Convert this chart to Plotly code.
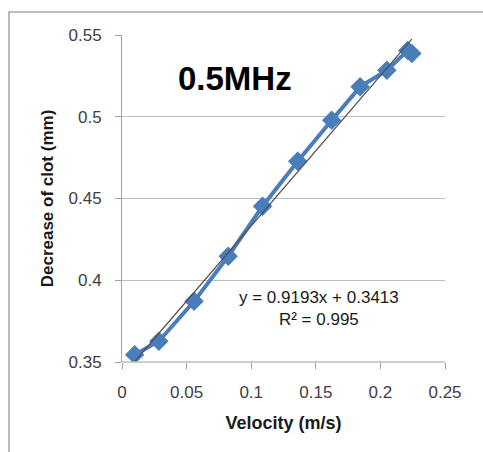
import plotly.graph_objects as go

velocity = [0.0098, 0.0285, 0.0558, 0.0822, 0.1088, 0.1360, 0.1623, 0.1843, 0.2050, 0.2212, 0.2243]
decrease = [0.3545, 0.3627, 0.3871, 0.4147, 0.4453, 0.4728, 0.4979, 0.5183, 0.5285, 0.5405, 0.5387]
slope = 0.9193
intercept = 0.3413
r2 = 0.995
x_ticks = [0, 0.05, 0.1, 0.15, 0.2, 0.25]
x_labels = ["0", "0.05", "0.1", "0.15", "0.2", "0.25"]
y_ticks = [0.35, 0.4, 0.45, 0.5, 0.55]
y_labels = ["0.35", "0.4", "0.45", "0.5", "0.55"]

trend_x = [min(velocity), max(velocity)]
trend_y = [slope * v + intercept for v in trend_x]

FONT = "Liberation Sans, Arial, sans-serif"
BLUE = "#4A7EBB"

fig = go.Figure()
fig.add_trace(go.Scatter(
    x=velocity, y=decrease, mode="lines+markers",
    line=dict(color=BLUE, width=4),
    marker=dict(symbol="diamond", size=15, color=BLUE),
    showlegend=False, hoverinfo="skip"))
fig.add_trace(go.Scatter(
    x=trend_x, y=trend_y, mode="lines",
    line=dict(color="#505050", width=1.2),
    showlegend=False, hoverinfo="skip"))

fig.update_layout(
    width=483, height=452,
    margin=dict(l=122, r=38, t=35, b=90, autoexpand=False),
    paper_bgcolor="white", plot_bgcolor="white",
    font=dict(family=FONT, color="#404040"),
    xaxis=dict(range=[0, 0.25], tickvals=x_ticks, ticktext=x_labels,
               showgrid=False, zeroline=False, showline=False, automargin=False,
               ticks="outside", ticklen=6, tickcolor="#A0A0A0",
               ticklabelstandoff=9,
               tickfont=dict(size=17, color="#404040"),
               title=dict(text="<b>Velocity (m/s)</b>", font=dict(size=18, color="#1a1a1a"), standoff=14)),
    yaxis=dict(range=[0.35, 0.55], tickvals=y_ticks, ticktext=y_labels,
               showgrid=True, gridcolor="#BDBDBD", gridwidth=1, automargin=False,
               zeroline=False, showline=True, linecolor="#A0A0A0",
               ticks="outside", ticklen=6, tickcolor="#A0A0A0",
               ticklabelstandoff=10,
               tickfont=dict(size=17, color="#404040"),
               title=dict(text="<b>Decrease of clot (mm)</b>", font=dict(size=17, color="#1a1a1a"), standoff=10)),
    shapes=[
        dict(type="line", xref="paper", yref="paper", x0=0, x1=1, y0=0, y1=0,
             line=dict(color="#BDBDBD", width=1.5)),
        dict(type="rect", xref="paper", yref="paper",
             x0=(9 - 122) / 323, x1=(500 - 122) / 323,
             y0=(362 - 470) / 327, y1=1 + (35 - 12) / 327,
             line=dict(color="#A6A6A6", width=1.5), fillcolor="rgba(0,0,0,0)", layer="below"),
    ],
    annotations=[
        dict(text="<b>0.5MHz</b>", xref="paper", yref="paper",
             x=(235 - 122) / 323, y=1 - (78 - 35) / 327, showarrow=False,
             font=dict(size=33, color="#000000", family=FONT), xanchor="center", yanchor="middle"),
        dict(text=f"y = {slope}x + {intercept}<br>R² = {r2}", xref="paper", yref="paper",
             x=(319 - 122) / 323, y=1 - (308 - 35) / 327, showarrow=False, align="center",
             font=dict(size=17, color="#1a1a1a", family=FONT), xanchor="center", yanchor="middle"),
    ],
)

fig.write_html("out.html", post_script="document.body.style.margin='0';",
               config={"displayModeBar": False})
